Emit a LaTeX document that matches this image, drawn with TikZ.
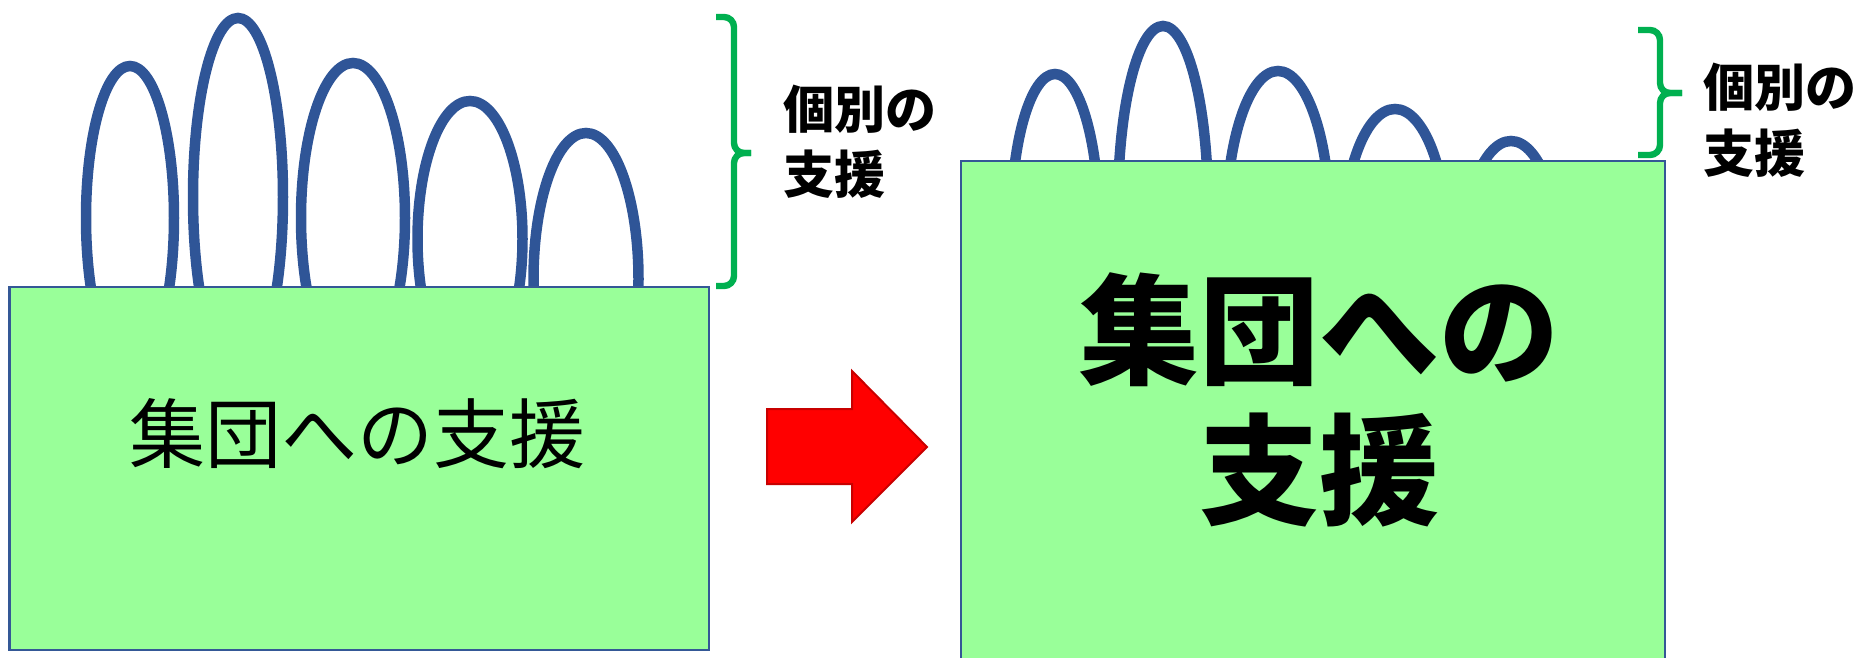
\documentclass[tikz,border=0pt]{standalone}
\usepackage{fontspec}
\newfontfamily\jp{Noto Sans CJK JP}
\definecolor{loopblue}{RGB}{47,85,151}
\definecolor{boxgreen}{RGB}{153,255,153}
\definecolor{boxedge}{RGB}{52,88,150}
\definecolor{brgreen}{RGB}{0,176,80}
\definecolor{arrowedge}{RGB}{200,0,0}
\tikzset{
  loopline/.style={draw=loopblue, line width=5.25pt},
  panel/.style={fill=boxgreen, draw=boxedge, line width=1.2pt},
  bracket/.style={draw=brgreen, line width=3.2pt, rounded corners=5pt},
  bigarrow/.style={fill=red, draw=arrowedge, line width=1pt},
  labeltext/.style={font=\jp\bfseries\fontsize{25.5pt}{33pt}\selectfont, inner sep=0pt, anchor=base west},
  maintext/.style={font=\jp\fontsize{38pt}{46pt}\selectfont, inner sep=0pt, anchor=base},
  bigtext/.style={font=\jp\bfseries\fontsize{60pt}{70pt}\selectfont, inner sep=0pt, anchor=base},
}
\newcommand\mkloops{%
  \draw[loopline] (130,218) ellipse [x radius=22pt, y radius=76pt];
  \draw[loopline] (238,197) ellipse [x radius=22.5pt, y radius=89.5pt];
  \draw[loopline] (353,218) ellipse [x radius=26pt, y radius=77.5pt];
  \draw[loopline] (470,239) ellipse [x radius=26.25pt, y radius=69pt];
  \draw[loopline] (586,279) ellipse [x radius=26.25pt, y radius=73pt];
}
\begin{document}
\begin{tikzpicture}[x=0.5pt, y=-0.5pt]
  \useasboundingbox (0,0) rectangle (1860,658);
  % loops
  \mkloops
  \begin{scope}[shift={(925,8)}]
    \mkloops
  \end{scope}
  % panels
  \path[panel] (9.5,287) rectangle (709,650);
  \path[panel] (961,161) rectangle (1665,668);
  % brackets
  \draw[bracket] (716,17) -- (734,17) -- (734,153) -- (751,153);
  \draw[bracket] (751,153) -- (734,153) -- (734,286) -- (716,286);
  \draw[bracket] (1638,30) -- (1660,30) -- (1660,93) -- (1682,93);
  \draw[bracket] (1682,93) -- (1660,93) -- (1660,155) -- (1638,155);
  % arrow
  \draw[bigarrow] (767,409) -- (852,409) -- (852,371) -- (927,447) -- (852,522) -- (852,484) -- (767,484) -- cycle;
  % texts
  \node[maintext] (lefttext) at (357.5,462) {集団への支援};
  \node[bigtext] (righttexta) at (1319,375) {集団への};
  \node[bigtext] (righttextb) at (1319,515.6) {支援};
  \node[labeltext] (labelLa) at (783,129) {個別の};
  \node[labeltext] (labelLb) at (783,193.4) {支援};
  \node[labeltext] (labelRa) at (1703,107) {個別の};
  \node[labeltext] (labelRb) at (1703,173) {支援};
\end{tikzpicture}
\end{document}
